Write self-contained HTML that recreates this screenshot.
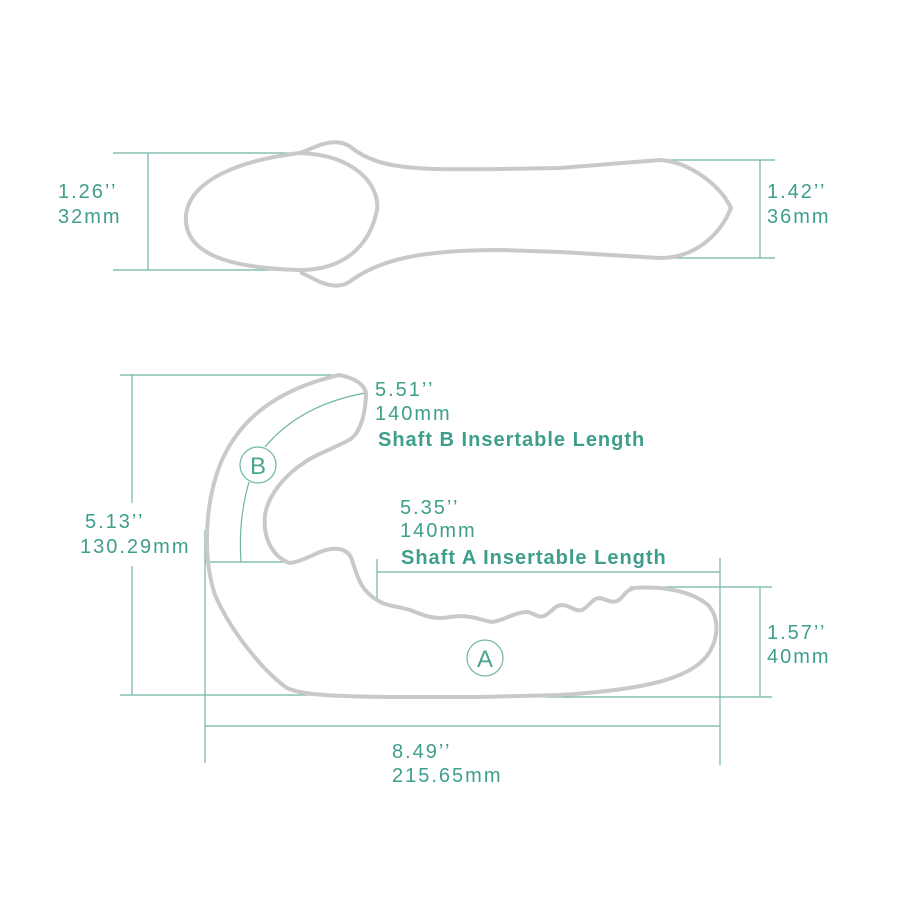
<!DOCTYPE html>
<html><head><meta charset="utf-8"><style>
html,body{margin:0;padding:0;background:#fff;}
svg{display:block}
text{font-family:"Liberation Sans",sans-serif;fill:#3e9e8c;font-size:20px;letter-spacing:2px;}
.b{font-weight:bold;letter-spacing:1px;}
.c{font-size:24px;fill:#4aa592;letter-spacing:0;}
</style></head><body>
<svg width="900" height="900" viewBox="0 0 900 900" xmlns="http://www.w3.org/2000/svg">
<g stroke="#6fb5a8" stroke-width="1.2" fill="none">
<line x1="113" y1="153" x2="300" y2="153"/>
<line x1="113" y1="270" x2="300" y2="270"/>
<line x1="148" y1="153" x2="148" y2="270"/>
<line x1="660" y1="160" x2="775" y2="160"/>
<line x1="660" y1="258" x2="775" y2="258"/>
<line x1="760" y1="160" x2="760" y2="258"/>
<line x1="120" y1="375" x2="340" y2="375"/>
<line x1="120" y1="695" x2="340" y2="695"/>
<line x1="132" y1="375" x2="132" y2="503"/>
<line x1="132" y1="566" x2="132" y2="695"/>
<line x1="205" y1="530" x2="205" y2="763"/>
<line x1="205" y1="562" x2="290" y2="562"/>
<line x1="377" y1="559" x2="377" y2="600"/>
<line x1="377" y1="572" x2="720" y2="572"/>
<line x1="720" y1="558" x2="720" y2="765"/>
<line x1="630" y1="587" x2="772" y2="587"/>
<line x1="545" y1="697" x2="772" y2="697"/>
<line x1="760" y1="587" x2="760" y2="697"/>
<line x1="205" y1="726" x2="720" y2="726"/>
<path d="M365 393 Q300 405 265 447"/>
<path d="M249 482 Q238 520 241 562"/>
<ellipse cx="258" cy="465" rx="18" ry="18"/>
<ellipse cx="485" cy="658" rx="18" ry="18"/>
</g>
<text x="258" y="474" text-anchor="middle" class="c">B</text>
<text x="485" y="667" text-anchor="middle" class="c">A</text>
<g stroke="#c9c9c9" stroke-width="4" fill="none" stroke-linejoin="round">
<path d="M300 153 C240 160 190 180 186 215 C183 250 220 268 300 270 C345 270 370 245 377 210 C380 185 355 155 300 153 Z"/>
<path d="M300 153 L320 145 C335 140 345 142 352 148 C380 170 420 170 500 169 L560 168 L660 160 C690 162 720 185 731 208 C720 235 695 258 660 258 L560 252 L500 250 C420 250 380 260 352 280 C345 286 335 288 320 282 L300 272"/>
<path d="M339 375 C355 378 366 385 366 395 C365 420 358 435 349 440 C330 450 315 455 305 462 C285 475 268 495 265 515 C263 535 270 555 289 563 C300 562 310 556 320 552 C335 546 348 548 352 560 C357 575 360 590 377 600 C385 606 397 606 410 610 C425 616 435 620 450 617 C470 614 480 620 492 622 C505 620 515 612 528 612 C535 614 538 618 544 616 C552 612 555 605 562 605 C572 606 575 612 582 610 C590 606 592 598 600 598 C608 600 612 604 619 600 C624 596 626 590 634 588 C660 586 690 590 708 605 C722 620 718 648 700 663 C680 680 640 690 560 695 L480 697 L387 697 C320 696 300 694 287 688 C262 670 230 630 215 595 C202 555 205 500 222 460 C240 420 275 390 339 375 Z"/>
</g>
<text x="58" y="198">1.26’’</text>
<text x="58" y="223">32mm</text>
<text x="767" y="198">1.42’’</text>
<text x="767" y="223">36mm</text>
<text x="375" y="396">5.51’’</text>
<text x="375" y="420">140mm</text>
<text x="378" y="446" class="b">Shaft B Insertable Length</text>
<text x="400" y="514">5.35’’</text>
<text x="400" y="537">140mm</text>
<text x="401" y="564" class="b">Shaft A Insertable Length</text>
<text x="85" y="528">5.13’’</text>
<text x="80" y="553">130.29mm</text>
<text x="767" y="639">1.57’’</text>
<text x="767" y="663">40mm</text>
<text x="392" y="758">8.49’’</text>
<text x="392" y="782">215.65mm</text>
</svg>
</body></html>
